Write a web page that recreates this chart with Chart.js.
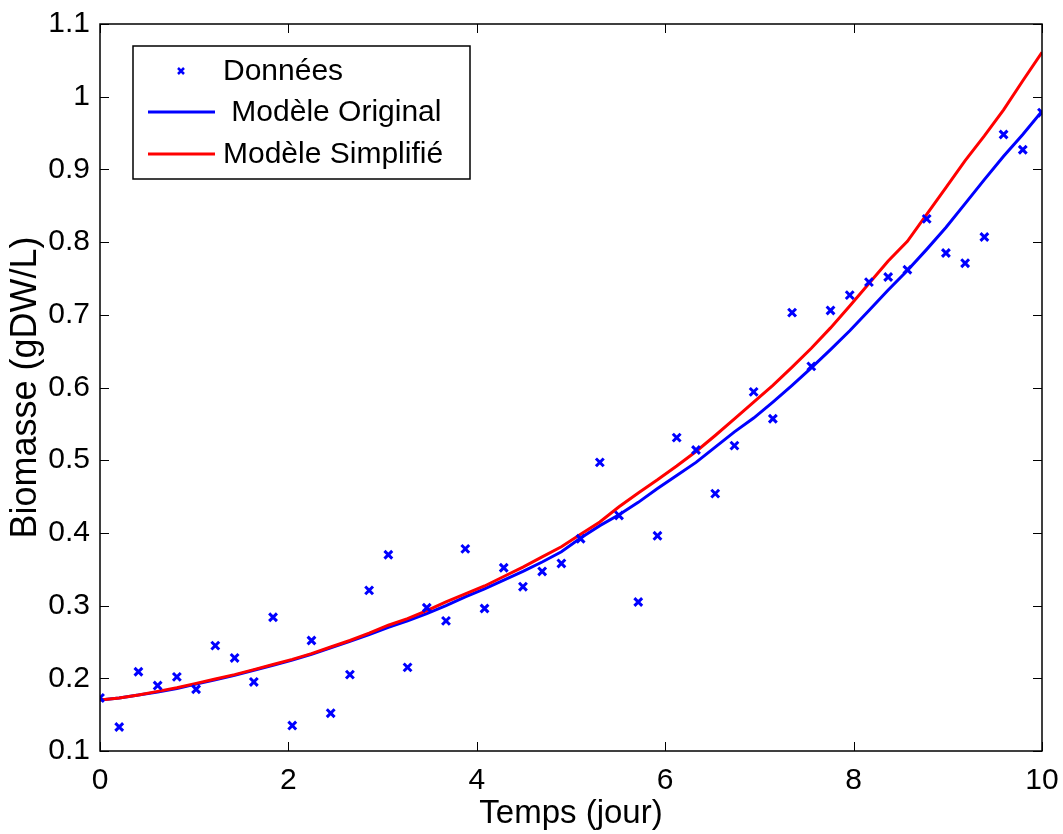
<!DOCTYPE html>
<html>
<head>
<meta charset="utf-8">
<script src="https://cdn.jsdelivr.net/npm/chart.js@4.4.1/dist/chart.umd.min.js"></script>
<style>
  body { margin: 0; background: #fff; }
  canvas { display: block; }
</style>
</head>
<body>
<canvas id="myChart" width="1063" height="834"></canvas>
<script>
// temps (jour)
const temps = [0, 0.204, 0.408, 0.612, 0.816, 1.020, 1.224, 1.429, 1.633, 1.837,
  2.041, 2.245, 2.449, 2.653, 2.857, 3.061, 3.265, 3.469, 3.673, 3.878,
  4.082, 4.286, 4.490, 4.694, 4.898, 5.102, 5.306, 5.510, 5.714, 5.918,
  6.122, 6.327, 6.531, 6.735, 6.939, 7.143, 7.347, 7.551, 7.755, 7.959,
  8.163, 8.367, 8.571, 8.776, 8.980, 9.184, 9.388, 9.592, 9.796, 10.0];

const donnees = [0.173, 0.133, 0.209, 0.190, 0.202, 0.185, 0.245, 0.228, 0.195, 0.284,
  0.135, 0.252, 0.152, 0.205, 0.321, 0.370, 0.215, 0.297, 0.279, 0.378,
  0.296, 0.352, 0.326, 0.347, 0.358, 0.392, 0.497, 0.424, 0.305, 0.396,
  0.531, 0.514, 0.454, 0.520, 0.594, 0.557, 0.703, 0.629, 0.706, 0.727,
  0.745, 0.752, 0.762, 0.832, 0.785, 0.771, 0.807, 0.948, 0.927, 0.978];

const modeleOriginal = [0.170, 0.173, 0.177, 0.181, 0.186, 0.192, 0.198, 0.204, 0.211, 0.218,
  0.225, 0.233, 0.242, 0.251, 0.260, 0.270, 0.279, 0.289, 0.300, 0.312,
  0.323, 0.335, 0.347, 0.360, 0.374, 0.393, 0.410, 0.425, 0.442, 0.461,
  0.479, 0.497, 0.518, 0.539, 0.558, 0.580, 0.603, 0.627, 0.652, 0.678,
  0.706, 0.734, 0.761, 0.790, 0.820, 0.853, 0.886, 0.918, 0.948, 0.980];

const modeleSimplifie = [0.170, 0.173, 0.177, 0.182, 0.187, 0.193, 0.199, 0.205, 0.212, 0.219,
  0.226, 0.234, 0.243, 0.252, 0.262, 0.273, 0.282, 0.293, 0.305, 0.316,
  0.327, 0.340, 0.353, 0.367, 0.381, 0.398, 0.415, 0.436, 0.455, 0.473,
  0.492, 0.512, 0.534, 0.557, 0.580, 0.603, 0.628, 0.654, 0.682, 0.712,
  0.743, 0.774, 0.801, 0.838, 0.875, 0.912, 0.946, 0.982, 1.022, 1.061];

const xTicks = [0, 2, 4, 6, 8, 10];
const yTicks = [0.1, 0.2, 0.3, 0.4, 0.5, 0.6, 0.7, 0.8, 0.9, 1, 1.1];

const FONT = '"Liberation Sans", Arial, Helvetica, sans-serif';
const pts = (ys) => temps.map((t, i) => ({ x: t, y: ys[i] }));

// MATLAB style box with inward ticks + legend inside the axes
const boxPlugin = {
  id: 'box',
  afterDraw(chart) {
    const { ctx, chartArea: a, scales } = chart;
    ctx.save();
    ctx.strokeStyle = '#000';
    ctx.lineWidth = 1.5;
    ctx.strokeRect(a.left, a.top, a.right - a.left, a.bottom - a.top);
    ctx.lineWidth = 1;
    const L = 9;
    ctx.beginPath();
    xTicks.forEach((v) => {
      const px = Math.round(scales.x.getPixelForValue(v)) + 0.5;
      ctx.moveTo(px, a.bottom); ctx.lineTo(px, a.bottom - L);
      ctx.moveTo(px, a.top); ctx.lineTo(px, a.top + L);
    });
    yTicks.forEach((v) => {
      const py = Math.round(scales.y.getPixelForValue(v)) + 0.5;
      ctx.moveTo(a.left, py); ctx.lineTo(a.left + L, py);
      ctx.moveTo(a.right, py); ctx.lineTo(a.right - L, py);
    });
    ctx.stroke();

    // legend
    const lx = 133, ly = 46, lw = 337, lh = 133;
    ctx.fillStyle = '#fff';
    ctx.fillRect(lx, ly, lw, lh);
    ctx.lineWidth = 1.5;
    ctx.strokeRect(lx, ly, lw, lh);
    const rows = [71, 112, 154];
    ctx.font = '30px ' + FONT;
    ctx.textBaseline = 'middle';
    chart.data.datasets.forEach((ds, i) => {
      const y = rows[i];
      ctx.strokeStyle = ds.borderColor;
      if (ds.showLine === false) {
        ctx.lineWidth = 2.5;
        const r = 3;
        ctx.beginPath();
        ctx.moveTo(181 - r, y - r); ctx.lineTo(181 + r, y + r);
        ctx.moveTo(181 - r, y + r); ctx.lineTo(181 + r, y - r);
        ctx.stroke();
      } else {
        ctx.lineWidth = 3;
        ctx.beginPath();
        ctx.moveTo(148, y); ctx.lineTo(215, y);
        ctx.stroke();
      }
      ctx.fillStyle = '#000';
      ctx.fillText(ds.label, 223, y + 1);
    });
    ctx.restore();
  }
};

new Chart(document.getElementById('myChart'), {
  type: 'scatter',
  data: {
    datasets: [
      {
        label: 'Données',
        data: pts(donnees),
        showLine: false,
        pointStyle: 'crossRot',
        pointRadius: 5.5,
        borderColor: '#0000ff',
        backgroundColor: '#0000ff',
        borderWidth: 3,
        order: 0,
      },
      {
        label: ' Modèle Original',
        data: pts(modeleOriginal),
        showLine: true,
        pointRadius: 0,
        borderColor: '#0000ff',
        borderWidth: 3,
        tension: 0,
        order: 2,
      },
      {
        label: 'Modèle Simplifié',
        data: pts(modeleSimplifie),
        showLine: true,
        pointRadius: 0,
        borderColor: '#ff0000',
        borderWidth: 3,
        tension: 0,
        order: 1,
      },
    ],
  },
  options: {
    responsive: false,
    animation: false,
    devicePixelRatio: 1,
    events: [],
    layout: { padding: { top: 24, right: 21, left: 0, bottom: 0 } },
    plugins: { legend: { display: false }, tooltip: { enabled: false } },
    scales: {
      x: {
        type: 'linear',
        min: 0,
        max: 10,
        afterBuildTicks: (s) => { s.ticks = xTicks.map((v) => ({ value: v })); },
        grid: { display: false, drawTicks: false },
        border: { display: false },
        ticks: { color: '#000', font: { family: FONT, size: 30 }, padding: 12, maxRotation: 0 },
        title: {
          display: true,
          text: 'Temps (jour)',
          color: '#000',
          font: { family: FONT, size: 33 },
          padding: { top: 0, bottom: 0 },
        },
        afterFit: (s) => { s.height = 83; s.paddingLeft = 0; s.paddingRight = 0; },
      },
      y: {
        type: 'linear',
        min: 0.1,
        max: 1.1,
        afterBuildTicks: (s) => { s.ticks = yTicks.map((v) => ({ value: v })); },
        grid: { display: false, drawTicks: false },
        border: { display: false },
        ticks: {
          color: '#000',
          font: { family: FONT, size: 30 },
          padding: 10,
          callback: (v) => String(+v.toFixed(1)),
        },
        title: {
          display: true,
          text: 'Biomasse (gDW/L)',
          color: '#000',
          font: { family: FONT, size: 36 },
          padding: { top: 4, bottom: 0 },
        },
        afterFit: (s) => { s.width = 100; s.paddingTop = 0; s.paddingBottom = 0; },
      },
    },
  },
  plugins: [boxPlugin],
});
</script>
</body>
</html>
